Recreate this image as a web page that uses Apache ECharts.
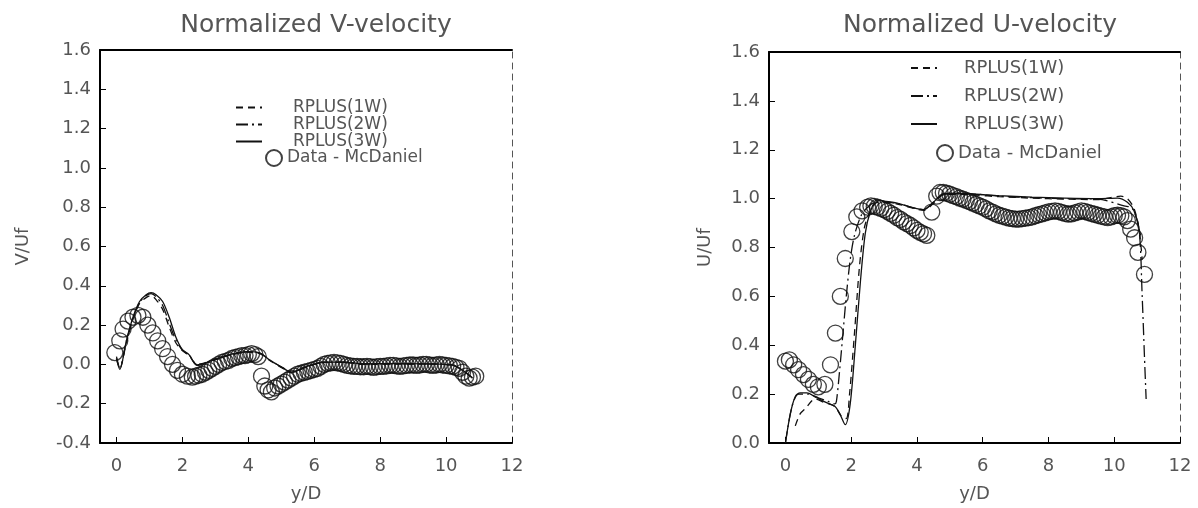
<!DOCTYPE html>
<html>
<head>
<meta charset="utf-8">
<script src="https://cdn.jsdelivr.net/npm/echarts@6/dist/echarts.min.js"></script>
<style>
  html, body { margin: 0; padding: 0; background: #fff; }
  #chart { width: 1198px; height: 508px; }
</style>
</head>
<body>
<div id="chart"></div>
<script>
// ============================================================
// 数据（从图上读出的 y/D 与归一化速度）
// ============================================================

var X_TICKS = [0, 2, 4, 6, 8, 10, 12];

// 左图：V/Uf
var vData = [
  [-0.05, 0.06], [0.1, 0.12], [0.2, 0.18], [0.35, 0.22], [0.5, 0.24], [0.65, 0.25], [0.8, 0.24],
  [0.95, 0.2], [1.1, 0.16], [1.25, 0.12], [1.4, 0.08], [1.55, 0.04], [1.7, 0.0], [1.85, -0.03],
  [2.0, -0.05], [2.15, -0.06], [2.3, -0.065], [2.4, -0.06], [2.5, -0.055], [2.6, -0.05], [2.7, -0.04],
  [2.8, -0.03], [2.9, -0.02], [3.0, -0.01], [3.1, 0.0], [3.2, 0.01], [3.3, 0.015], [3.4, 0.02],
  [3.5, 0.03], [3.6, 0.035], [3.7, 0.04], [3.8, 0.045], [3.9, 0.045], [4.0, 0.05], [4.1, 0.055],
  [4.2, 0.05], [4.3, 0.04], [4.4, -0.06], [4.5, -0.11], [4.6, -0.13], [4.7, -0.14], [4.8, -0.12],
  [4.9, -0.11], [5.0, -0.1], [5.1, -0.09], [5.2, -0.08], [5.3, -0.07], [5.4, -0.06], [5.5, -0.05],
  [5.6, -0.045], [5.7, -0.04], [5.8, -0.035], [5.9, -0.03], [6.0, -0.025], [6.1, -0.02], [6.2, -0.01],
  [6.3, 0.0], [6.4, 0.005], [6.5, 0.008], [6.6, 0.01], [6.7, 0.008], [6.8, 0.005], [6.9, 0.0],
  [7.0, -0.005], [7.1, -0.008], [7.2, -0.01], [7.3, -0.01], [7.4, -0.012], [7.5, -0.012], [7.6, -0.01],
  [7.7, -0.012], [7.8, -0.015], [7.9, -0.012], [8.0, -0.01], [8.1, -0.01], [8.2, -0.008], [8.3, -0.005],
  [8.4, -0.005], [8.5, -0.008], [8.6, -0.01], [8.7, -0.008], [8.8, -0.005], [8.9, -0.003], [9.0, -0.003],
  [9.1, -0.005], [9.2, -0.003], [9.3, 0.0], [9.4, 0.0], [9.5, -0.003], [9.6, -0.005], [9.7, -0.003],
  [9.8, 0.0], [9.9, -0.003], [10.0, -0.005], [10.1, -0.008], [10.2, -0.01], [10.3, -0.015], [10.4, -0.02],
  [10.5, -0.04], [10.6, -0.06], [10.7, -0.07], [10.8, -0.065], [10.9, -0.06]
];

var vLine1W = [
  [0, 0.03], [0.1, -0.02], [0.3, 0.11], [0.5, 0.23], [0.7, 0.31], [0.9, 0.34], [1.05, 0.35],
  [1.2, 0.33], [1.4, 0.28], [1.6, 0.19], [1.8, 0.11], [2.0, 0.07], [2.2, 0.045], [2.45, 0.0],
  [2.9, 0.02], [3.4, 0.045], [3.95, 0.062], [4.35, 0.055], [4.65, 0.02], [5.05, -0.02], [5.3, -0.04],
  [5.75, -0.015], [6.3, 0.01], [6.9, 0.01], [7.5, 0.0], [8.5, 0.002], [9.5, 0.002], [10.2, -0.005],
  [10.5, -0.03], [10.8, -0.07]
];

var vLine2W = [
  [0, 0.04], [0.1, -0.015], [0.3, 0.12], [0.5, 0.235], [0.7, 0.315], [0.9, 0.35], [1.05, 0.36],
  [1.2, 0.345], [1.4, 0.3], [1.6, 0.21], [1.8, 0.125], [2.0, 0.072], [2.2, 0.048], [2.45, -0.002],
  [2.9, 0.018], [3.4, 0.046], [3.95, 0.064], [4.35, 0.057], [4.65, 0.022], [5.05, -0.018], [5.3, -0.04],
  [5.75, -0.013], [6.3, 0.011], [6.9, 0.011], [7.5, 0.002], [8.5, 0.003], [9.5, 0.002], [10.2, -0.004],
  [10.5, -0.03], [10.8, -0.068]
];

var vLine3W = [
  [0, 0.03], [0.1, -0.025], [0.3, 0.12], [0.5, 0.24], [0.7, 0.32], [0.9, 0.355], [1.05, 0.365],
  [1.2, 0.355], [1.4, 0.32], [1.6, 0.24], [1.8, 0.14], [2.0, 0.075], [2.2, 0.05], [2.45, -0.005],
  [2.9, 0.02], [3.4, 0.048], [3.95, 0.065], [4.35, 0.058], [4.65, 0.022], [5.05, -0.018], [5.3, -0.04],
  [5.75, -0.012], [6.3, 0.012], [6.9, 0.012], [7.5, 0.003], [8.5, 0.004], [9.5, 0.003], [10.2, -0.003],
  [10.5, -0.03], [10.8, -0.07]
];

// 右图：U/Uf
var uData = [
  [0, 0.335], [0.12, 0.34], [0.25, 0.32], [0.4, 0.3], [0.55, 0.28], [0.7, 0.26], [0.85, 0.24],
  [1.0, 0.23], [1.2, 0.24], [1.37, 0.32], [1.52, 0.45], [1.67, 0.6], [1.82, 0.755], [2.02, 0.865],
  [2.17, 0.925], [2.33, 0.95], [2.5, 0.965], [2.6, 0.97], [2.7, 0.968], [2.8, 0.965], [2.9, 0.96],
  [3.0, 0.955], [3.1, 0.948], [3.2, 0.94], [3.3, 0.932], [3.4, 0.922], [3.5, 0.915], [3.6, 0.905],
  [3.7, 0.898], [3.8, 0.89], [3.9, 0.88], [4.0, 0.87], [4.1, 0.862], [4.2, 0.856], [4.3, 0.85],
  [4.45, 0.945], [4.6, 1.01], [4.7, 1.025], [4.8, 1.025], [4.9, 1.022], [5.0, 1.018], [5.1, 1.012],
  [5.2, 1.008], [5.3, 1.002], [5.4, 0.998], [5.5, 0.993], [5.6, 0.988], [5.7, 0.982], [5.8, 0.976],
  [5.9, 0.97], [6.0, 0.965], [6.1, 0.958], [6.2, 0.95], [6.3, 0.945], [6.4, 0.938], [6.5, 0.932],
  [6.6, 0.928], [6.7, 0.924], [6.8, 0.92], [6.9, 0.918], [7.0, 0.916], [7.1, 0.916], [7.2, 0.918],
  [7.3, 0.92], [7.4, 0.922], [7.5, 0.925], [7.6, 0.93], [7.7, 0.934], [7.8, 0.938], [7.9, 0.942],
  [8.0, 0.946], [8.1, 0.948], [8.2, 0.95], [8.3, 0.948], [8.4, 0.944], [8.5, 0.94], [8.6, 0.937],
  [8.7, 0.938], [8.8, 0.942], [8.9, 0.946], [9.0, 0.95], [9.1, 0.948], [9.2, 0.944], [9.3, 0.94],
  [9.4, 0.936], [9.5, 0.932], [9.6, 0.928], [9.7, 0.925], [9.8, 0.922], [9.9, 0.925], [10.0, 0.93],
  [10.1, 0.932], [10.2, 0.93], [10.3, 0.925], [10.4, 0.91], [10.5, 0.875], [10.62, 0.84],
  [10.72, 0.78], [10.92, 0.69]
];

var uLine1W = [
  [0.3, 0.07], [0.45, 0.12], [0.6, 0.14], [0.9, 0.18], [1.2, 0.165], [1.5, 0.15], [1.7, 0.11],
  [1.85, 0.1], [1.95, 0.2], [2.1, 0.45], [2.25, 0.72], [2.4, 0.88], [2.55, 0.94], [2.8, 0.985],
  [3.0, 0.985], [3.4, 0.978], [3.9, 0.96], [4.2, 0.952], [4.5, 0.98], [4.8, 1.015], [5.2, 1.018],
  [5.8, 1.014], [6.5, 1.008], [7.5, 1.002], [8.5, 0.998], [9.5, 0.996], [10.2, 1.01], [10.4, 1.0],
  [10.6, 0.96], [10.75, 0.88], [10.85, 0.75]
];

var uLine2W = [
  [0, 0.0], [0.2, 0.15], [0.4, 0.2], [0.7, 0.2], [1.0, 0.185], [1.3, 0.17], [1.5, 0.16],
  [1.55, 0.17], [1.65, 0.3], [1.75, 0.45], [1.85, 0.6], [1.97, 0.75], [2.1, 0.85], [2.3, 0.93],
  [2.5, 0.965], [2.8, 0.99], [3.4, 0.98], [3.9, 0.962], [4.2, 0.955], [4.5, 0.985], [4.8, 1.018],
  [5.5, 1.02], [6.5, 1.01], [7.5, 1.004], [8.5, 1.0], [9.5, 0.998], [10.3, 0.97], [10.55, 0.96],
  [10.75, 0.88], [10.85, 0.6], [10.92, 0.35], [10.97, 0.18]
];

var uLine3W = [
  [0, 0.0], [0.15, 0.12], [0.3, 0.19], [0.45, 0.205], [0.65, 0.205], [0.95, 0.185], [1.25, 0.165],
  [1.5, 0.15], [1.65, 0.12], [1.82, 0.075], [1.97, 0.16], [2.12, 0.39], [2.28, 0.66], [2.43, 0.86],
  [2.58, 0.945], [2.78, 0.995], [3.0, 0.99], [3.4, 0.982], [3.9, 0.962], [4.2, 0.955], [4.5, 0.985],
  [4.8, 1.02], [5.2, 1.022], [5.8, 1.018], [6.5, 1.012], [7.5, 1.006], [8.5, 1.002], [9.5, 1.0],
  [10.1, 1.002], [10.4, 0.985], [10.6, 0.95], [10.8, 0.85]
];

// ============================================================
// 样式
// ============================================================

var FONT = 'DejaVu Sans';
var TEXT_COLOR = '#555';
var LINE_COLOR = '#111';

var LINE_NAMES = ['RPLUS(1W)', 'RPLUS(2W)', 'RPLUS(3W)'];
var DATA_NAME = 'Data - McDaniel';
var LINE_TYPES = [[7, 5], [12, 4, 2, 4], 'solid'];

function textStyle(size) {
  return { fontFamily: FONT, fontSize: size, color: TEXT_COLOR, fontWeight: 'normal' };
}

function bottomAxis(gridIndex) {
  return {
    type: 'value', gridIndex: gridIndex, min: -0.5, max: 12,
    name: 'y/D', nameLocation: 'middle', nameGap: 42,
    nameTextStyle: textStyle(18),
    axisLine: { onZero: false, lineStyle: { color: '#000', width: 2 } },
    axisTick: { inside: true, length: 6, customValues: X_TICKS, lineStyle: { color: '#000' } },
    axisLabel: Object.assign({ customValues: X_TICKS, margin: 14 }, textStyle(18)),
    splitLine: { show: false }
  };
}

function topAxis(gridIndex) {
  return {
    type: 'value', gridIndex: gridIndex, position: 'top', min: -0.5, max: 12,
    axisLine: { onZero: false, lineStyle: { color: '#000', width: 2 } },
    axisTick: { show: false }, axisLabel: { show: false }, splitLine: { show: false }
  };
}

function leftAxis(gridIndex, min, name, nameGap) {
  return {
    type: 'value', gridIndex: gridIndex, min: min, max: 1.6, interval: 0.2,
    name: name, nameLocation: 'middle', nameGap: nameGap,
    nameTextStyle: textStyle(18),
    axisLine: { onZero: false, lineStyle: { color: '#000', width: 2 } },
    axisTick: { inside: true, length: 6, lineStyle: { color: '#000' } },
    axisLabel: Object.assign({
      margin: 9,
      formatter: function(v) { return v.toFixed(1); }
    }, textStyle(18)),
    splitLine: { show: false }
  };
}

function rightAxis(gridIndex, min) {
  return {
    type: 'value', gridIndex: gridIndex, position: 'right', min: min, max: 1.6,
    axisLine: { onZero: false, lineStyle: { color: '#555', width: 1, type: [6, 5] } },
    axisTick: { show: false }, axisLabel: { show: false }, splitLine: { show: false }
  };
}

function lineSeries(name, data, idx, axisIndex) {
  return {
    name: name, type: 'line', data: data, xAxisIndex: axisIndex, yAxisIndex: axisIndex,
    symbol: 'none', smooth: 0.3, z: 3,
    lineStyle: { color: LINE_COLOR, width: 1.3, type: LINE_TYPES[idx] },
    itemStyle: { color: LINE_COLOR }
  };
}

function dataSeries(data, axisIndex) {
  return {
    name: DATA_NAME, type: 'scatter', data: data, xAxisIndex: axisIndex, yAxisIndex: axisIndex,
    symbol: 'circle', symbolSize: 16, z: 2,
    itemStyle: { color: 'rgba(0,0,0,0)', borderColor: '#111', borderWidth: 1.3 }
  };
}

function legendText(size, padLeft, lineHeight) {
  return Object.assign({ padding: [0, 0, 0, padLeft], lineHeight: lineHeight }, textStyle(size));
}

// 线条图例只画线，不画圆点
var HIDDEN_SYMBOL = { color: 'rgba(0,0,0,0)', borderColor: 'rgba(0,0,0,0)', borderWidth: 0 };

// ============================================================
// 渲染
// ============================================================

var chart = echarts.init(document.getElementById('chart'));

chart.setOption({
  animation: false,
  backgroundColor: '#fff',
  title: [
    { text: 'Normalized V-velocity', left: 311, top: 8, textAlign: 'center', textStyle: textStyle(25) },
    { text: 'Normalized U-velocity', left: 975, top: 8, textAlign: 'center', textStyle: textStyle(25) }
  ],
  legend: [
    {
      data: LINE_NAMES, orient: 'vertical', left: 230, top: 94, itemGap: 0,
      itemWidth: 26, itemHeight: 14, itemStyle: HIDDEN_SYMBOL,
      textStyle: legendText(17, 26, 16), selectedMode: false
    },
    {
      data: [DATA_NAME], orient: 'vertical', left: 260, top: 144,
      itemWidth: 16, itemHeight: 16, icon: 'circle', textStyle: legendText(17, 0, 16), selectedMode: false
    },
    {
      data: LINE_NAMES, orient: 'vertical', left: 905, top: 54, itemGap: 10,
      itemWidth: 26, itemHeight: 16, itemStyle: HIDDEN_SYMBOL,
      textStyle: legendText(18, 22, 18), selectedMode: false
    },
    {
      data: [DATA_NAME], orient: 'vertical', left: 931, top: 139,
      itemWidth: 16, itemHeight: 16, icon: 'circle', textStyle: legendText(18, 0, 18), selectedMode: false
    }
  ],
  grid: [
    { left: 100, top: 50, width: 412, height: 393 },
    { left: 769, top: 52, width: 411, height: 393 }
  ],
  xAxis: [bottomAxis(0), topAxis(0), bottomAxis(1), topAxis(1)],
  yAxis: [
    leftAxis(0, -0.4, 'V/Uf', 68),
    rightAxis(0, -0.4),
    leftAxis(1, 0, 'U/Uf', 55),
    rightAxis(1, 0)
  ],
  series: [
    dataSeries(vData, 0),
    lineSeries(LINE_NAMES[0], vLine1W, 0, 0),
    lineSeries(LINE_NAMES[1], vLine2W, 1, 0),
    lineSeries(LINE_NAMES[2], vLine3W, 2, 0),
    dataSeries(uData, 2),
    lineSeries(LINE_NAMES[0], uLine1W, 0, 2),
    lineSeries(LINE_NAMES[1], uLine2W, 1, 2),
    lineSeries(LINE_NAMES[2], uLine3W, 2, 2)
  ]
});
</script>
</body>
</html>
